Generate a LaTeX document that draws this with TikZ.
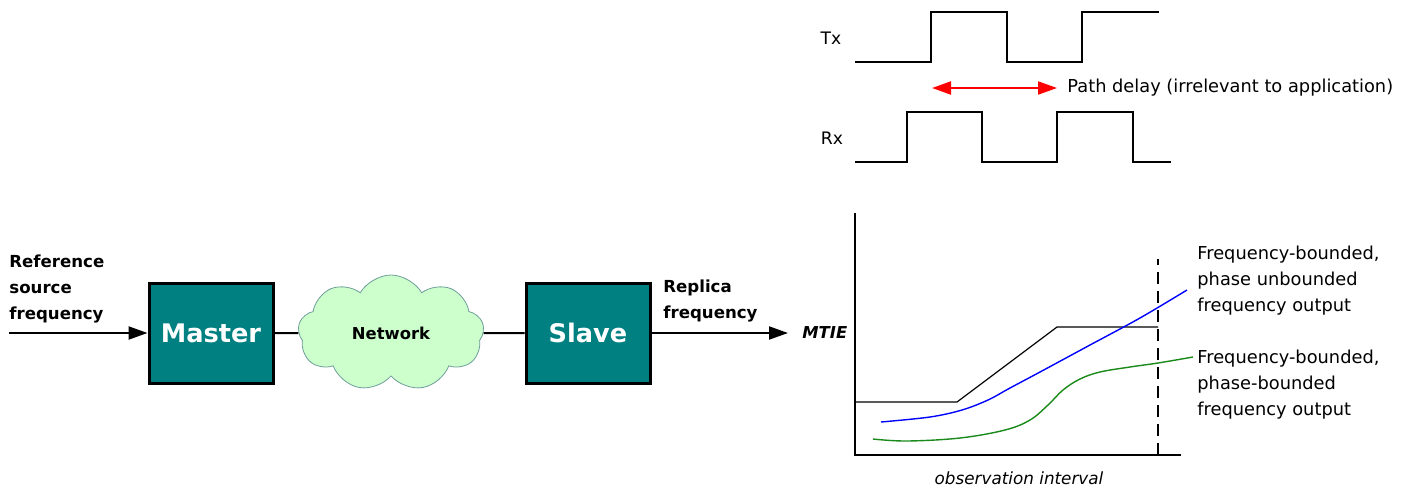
\documentclass[tikz,border=0pt]{standalone}
\usepackage{fontspec}
\setmainfont{DejaVu Sans}
\usetikzlibrary{positioning,arrows.meta,shapes.symbols}
\definecolor{ptteal}{HTML}{008080}
\definecolor{ptcloud}{HTML}{CCFFCC}
\definecolor{ptcloudline}{HTML}{6E9E99}
\definecolor{ptgreen}{HTML}{1A8A1A}

\begin{document}
\begin{tikzpicture}[
  x=0.5pt, y=-0.5pt,
  font=\fontsize{8.9}{13}\selectfont,
  label/.style={align=left, anchor=west, inner sep=0pt,
                font=\fontsize{8.3}{12.8}\selectfont\bfseries},
  unit/.style={draw=black, line width=1.5pt, fill=ptteal, text=white,
               minimum width=62pt, minimum height=50pt,
               font=\fontsize{12.8}{14}\selectfont\bfseries},
  net/.style={cloud, cloud puffs=9, cloud puff arc=120, aspect=1.6,
              draw=ptcloudline, fill=ptcloud, inner sep=0pt,
              minimum width=93pt, minimum height=58pt,
              font=\fontsize{8.2}{10}\selectfont\bfseries},
  arr/.style={-{Triangle[length=9.5pt, width=6.5pt]}, line width=1pt},
  link/.style={line width=1pt},
  wave/.style={line width=1pt},
  delay/.style={{Triangle[length=9.5pt, width=6.5pt]}-{Triangle[length=9.5pt, width=6.5pt]},
                line width=1pt, draw=red, fill=red},
  note/.style={align=left, anchor=west, inner sep=0pt},
  axis/.style={line width=1pt},
  mask/.style={line width=0.6pt},
]
  \useasboundingbox (0,0) rectangle (1412,488);

  % ---- reference chain --------------------------------------------------------
  \coordinate (src) at (9,333);
  \node[label] (ref) at (9,289) {Reference\\source\\frequency};
  \node[unit] (master) at (211,333) {Master};
  \node[net] (net) at (391,333) {Network};
  \node[unit] (slave) at (588,333) {Slave};
  \node[label] (rep) at (663,301) {Replica\\frequency};
  \node[inner sep=0pt, anchor=west, font=\fontsize{8.2}{10}\selectfont\bfseries\itshape]
    (mtie) at (802,333) {MTIE};
  \coordinate (out) at (788,333);

  \draw[arr] (src) -- (master.west);
  \draw[link] (master.east) -- (net.west);
  \draw[link] (net.east) -- (slave.west);
  \draw[arr] (slave.east) -- (out);

  % ---- Tx / Rx timing -----------------------------------------------------------
  \node[font=\fontsize{8.6}{10}\selectfont] (tx) at (831,38) {Tx};
  \node[font=\fontsize{8.6}{10}\selectfont] (rx) at (832,138) {Rx};
  \draw[wave] (855,62) -- (931,62) -- (931,12) -- (1007,12) -- (1007,62)
    -- (1082,62) -- (1082,12) -- (1159,12);
  \draw[wave] (855,162) -- (907,162) -- (907,112) -- (982,112) -- (982,162)
    -- (1057,162) -- (1057,112) -- (1133,112) -- (1133,162) -- (1171,162);

  \coordinate (d1) at (932,88);
  \coordinate (d2) at (1057,88);
  \draw[delay] (d1) -- (d2);
  \node[note] (pd) at (1067,88) {Path delay (irrelevant to application)};

  % ---- MTIE against observation interval ---------------------------------------
  \draw[axis] (855,213) -- (855,455) -- (1181,455);
  \draw[axis, dash pattern=on 6pt off 3.5pt] (1158,455) -- (1158,259);
  \draw[mask] (855,402) -- (957,402) -- (1057,327) -- (1158,327);

  \draw[blue, line width=0.7pt] plot[smooth, tension=0.55] coordinates {
    (881,422) (930,417) (962,410) (988,400) (1010,388) (1040,372)
    (1090,345) (1140,318) (1187,290)};
  \draw[ptgreen, line width=0.7pt] plot[smooth, tension=0.6] coordinates {
    (873,439) (907,441) (960,438) (1005,430) (1030,420) (1048,405)
    (1063,390) (1080,379) (1100,372) (1130,367) (1158,363) (1193,357)};

  \node[note] (unb) at (1197,281)
    {Frequency-bounded,\\phase unbounded\\frequency output};
  \node[note] (bnd) at (1197,385)
    {Frequency-bounded,\\phase-bounded\\frequency output};
  \node[font=\fontsize{8.4}{10}\selectfont\itshape] (obs) at (1019,478)
    {observation interval};
\end{tikzpicture}
\end{document}
